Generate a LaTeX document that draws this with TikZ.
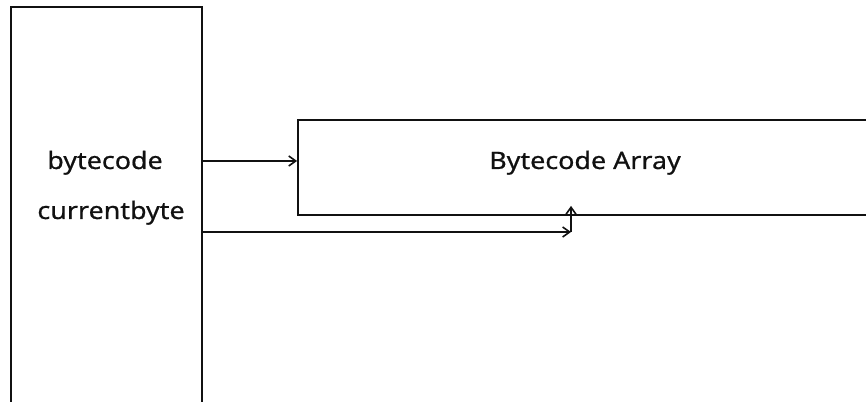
\documentclass[tikz,border=0pt]{standalone}
\usepackage{fontspec}
\setmainfont{Noto Sans}[FakeStretch=1.12,FakeBold=0.6]
\usepackage{tikz}
\usetikzlibrary{calc,arrows.meta,positioning}
\definecolor{inkx}{HTML}{111111}
\tikzset{
  ar/.style={-{Straight Barb[length=7pt,width=10pt]},line width=1.6pt,inkx},
  box/.style={draw=inkx,line width=1.8pt,inner sep=0pt},
  lbl/.style={font=\fontsize{24}{29}\selectfont,inkx,inner sep=0pt}
}
\begin{document}
\begin{tikzpicture}[x=1pt,y=1pt]
\useasboundingbox (0,0) rectangle (866,401);
\clip (0,0) rectangle (866,401);
% register block, open at the bottom
\node[box,minimum width=191pt,minimum height=424pt] (reg) at (106.5,182) {};
% array, runs off the right side
\node[box,minimum width=576pt,minimum height=95pt] (arr) at (586,233.5) {};
\node[lbl,anchor=base] (arrlbl) at (585,232) {Bytecode Array};
\node[lbl,anchor=base] (bc) at (105,232) {bytecode};
\node[lbl,anchor=base] (cb) at (111,182) {currentbyte};
\coordinate (bcrow) at (0,240);
\coordinate (cbrow) at (0,169);
\coordinate (pos) at (571,169);
\draw[ar] (bcrow -| reg.east) -- (bcrow -| arr.west);
\draw[ar] (cbrow -| reg.east) -- (pos);
\draw[ar] (pos) -- ($(pos |- arr.south)+(0,10)$);
\end{tikzpicture}
\end{document}
